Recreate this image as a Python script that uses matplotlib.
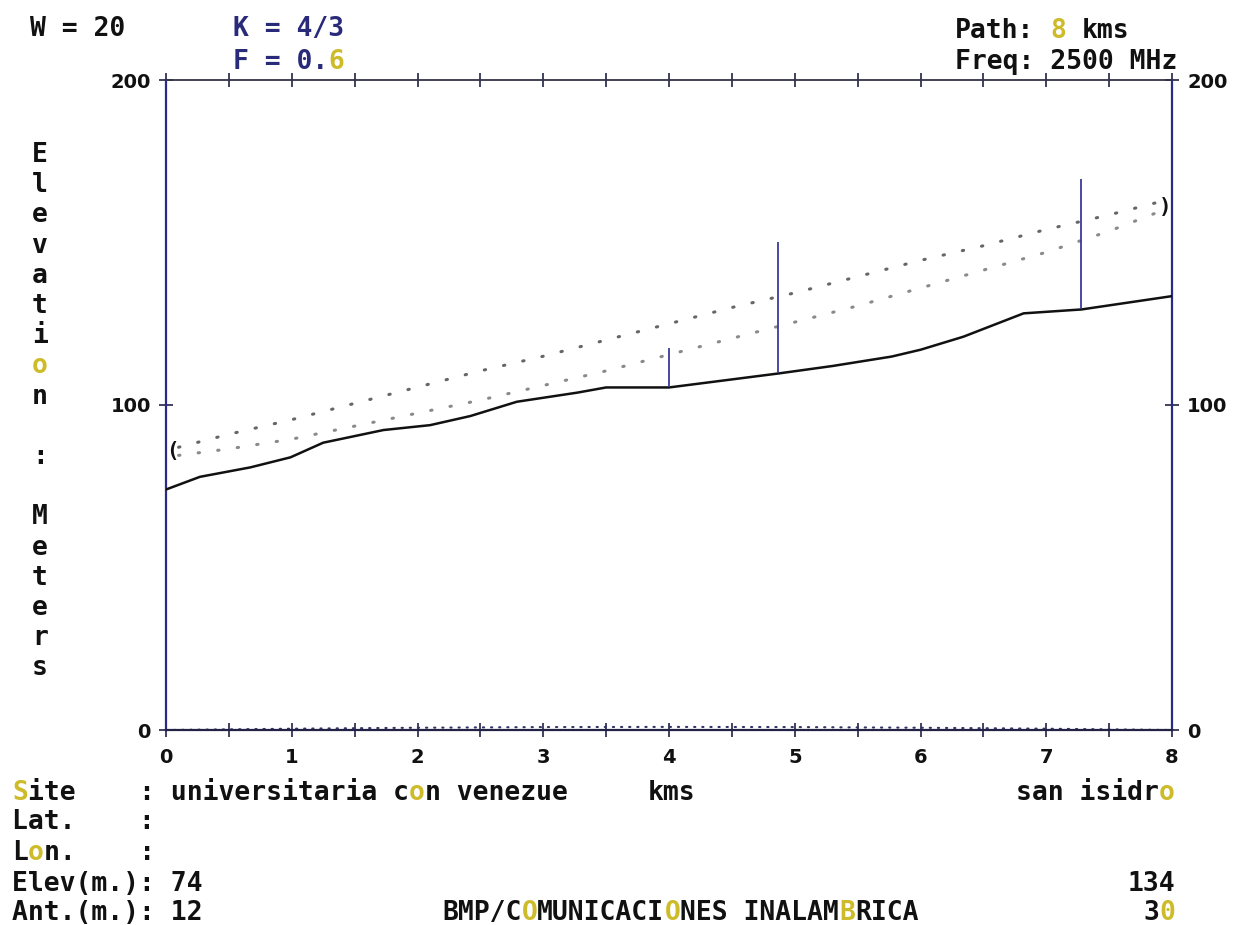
import matplotlib
matplotlib.use("Agg")
import matplotlib.pyplot as plt
import numpy as np

# ---------------- data ----------------
terrain_km = [0, 0.27, 0.67, 0.99, 1.25, 1.73, 2.1, 2.42, 2.79, 3.27, 3.5, 4.0,
              4.87, 5.3, 5.77, 6.0, 6.34, 6.82, 7.28, 8.0]
terrain_m = [74, 77.9, 80.8, 83.9, 88.4, 92.3, 93.8, 96.6, 101, 103.8, 105.4, 105.4,
             109.7, 112, 114.9, 117, 121, 128.2, 129.4, 133.5]

los_km = [0.1, 0.5, 1, 1.5, 2, 2.5, 3, 3.5, 4, 4.5, 5, 5.5, 6, 6.5, 7, 7.5, 7.9]
los_upper_m = [87, 91, 95.5, 100.5, 105.5, 110.5, 115, 120, 125, 130, 134.5, 139.5,
               144.5, 149, 154, 158.5, 162.5]
los_lower_m = [84.5, 86.5, 89.5, 93.5, 97.5, 101.5, 106, 110.5, 115.5, 120.5, 125.5,
               130.5, 136, 141.5, 147, 153.5, 159.5]

bulge_km = [0, 1, 2, 3, 4, 5, 6, 7, 8]
bulge_m = [0, 0.4, 0.7, 0.9, 0.95, 0.9, 0.7, 0.4, 0]

obst_km = [4.0, 4.87, 7.28]
obst_base_m = [105.4, 109.7, 129.4]
obst_top_m = [117.5, 150.3, 169.5]

xticks = [0, 0.5, 1, 1.5, 2, 2.5, 3, 3.5, 4, 4.5, 5, 5.5, 6, 6.5, 7, 7.5, 8]
xtick_labels = ['0', '', '1', '', '2', '', '3', '', '4', '', '5', '', '6', '', '7', '', '8']
yticks = [0, 100, 200]
ytick_labels = ['0', '100', '200']

# ---------------- figure ----------------
W, H = 1236, 925
fig = plt.figure(figsize=(W / 100, H / 100), dpi=100)
fig.patch.set_facecolor('white')

FONT = 'DejaVu Sans Mono'
FS = 19
ADV = 0.602 * FS * 100 / 72  # px per character
NAVY = '#2a2a7a'
YEL = '#cdbb2a'
INK = '#111111'

def mono(xpx, ypx, s, color=INK, hi=()):
    # split into runs of equal colour, each drawn at its monospace column
    runs = []
    for i, c in enumerate(s):
        col = YEL if i in hi else color
        if runs and runs[-1][1] == col:
            runs[-1][2] += c
        else:
            runs.append([i, col, c])
    for start, col, txt in runs:
        stripped = txt.lstrip(' ')
        start += len(txt) - len(stripped)
        stripped = stripped.rstrip(' ')
        if not stripped:
            continue
        fig.text((xpx + start * ADV) / W, 1 - ypx / H, stripped, family=FONT,
                 weight='bold', fontsize=FS, color=col, ha='left', va='center')

def mono_right(xpx, ypx, s, color=INK, hi=()):
    mono(xpx - len(s) * ADV, ypx, s, color, hi)

ax = fig.add_axes([166 / W, 1 - 730 / H, (1172 - 166) / W, (730 - 80) / H])
ax.set_xlim(0, 8)
ax.set_ylim(0, 200)

# terrain
ax.plot(terrain_km, terrain_m, color=INK, lw=1.8, zorder=3)
# line of sight and fresnel clearance (dotted)
ax.plot(los_km, los_upper_m, color='#666666', lw=2.2, linestyle=(0, (0.45, 6.0)),
        dash_capstyle='round', zorder=2)
ax.plot(los_km, los_lower_m, color='#8a8a8a', lw=2.2, linestyle=(0, (0.45, 6.0)),
        dash_capstyle='round', zorder=2)
# earth bulge near zero
ax.plot(bulge_km, bulge_m, color='#333366', lw=1.5, linestyle=(0, (0.6, 3.3)),
        dash_capstyle='round', zorder=2, clip_on=False)
# vertical markers
ax.vlines(obst_km, obst_base_m, obst_top_m, color='#3a3a9a', lw=1.3, zorder=3)

# antenna markers at ends
ax.text(0.0, (los_upper_m[0] + los_lower_m[0]) / 2, '(', family=FONT, weight='bold',
        fontsize=15, ha='left', va='center', color=INK)
ax.text(8.0, (los_upper_m[-1] + los_lower_m[-1]) / 2, ')', family=FONT, weight='bold',
        fontsize=15, ha='right', va='center', color=INK)

# spines
for side, col, lw in [('left', '#2a2a88', 1.6), ('right', '#2a2a88', 1.6),
                      ('top', '#333344', 1.3), ('bottom', '#222244', 1.6)]:
    ax.spines[side].set_color(col)
    ax.spines[side].set_linewidth(lw)

ax.set_xticks(xticks)
ax.set_xticklabels(xtick_labels)
ax.set_yticks(yticks)
ax.set_yticklabels(ytick_labels)
ax.tick_params(axis='x', top=True, bottom=True, direction='inout', length=10,
               width=1.3, color='#333355', pad=8, labelsize=14)
ax.tick_params(axis='y', left=True, right=True, labelleft=True, labelright=True,
               direction='inout', length=10, width=1.3, color='#333355', pad=6,
               labelsize=14)
for t in ax.xaxis.get_major_ticks() + ax.yaxis.get_major_ticks():
    for lab in (t.label1, t.label2):
        lab.set_family('DejaVu Sans')
        lab.set_weight('bold')
        lab.set_color(INK)

# header texts
mono(30, 29, 'W = 20')
mono(233, 29, 'K = 4/3', color=NAVY)
mono(233, 62, 'F = 0.6', color=NAVY, hi=(6,))
mono(955, 31, 'Path: 8 kms', hi=(6,))
mono(955, 62, 'Freq: 2500 MHz')

# vertical y label
ylabel = 'Elevation : Meters'
for i, ch in enumerate(ylabel):
    if ch == ' ':
        continue
    fig.text(40 / W, 1 - (155 + i * 30.2) / H, ch, family=FONT, weight='bold',
             fontsize=FS, color=YEL if i == 7 else INK, ha='center', va='center')

# bottom info block
mono(12, 793, 'Site    : universitaria con venezue', hi=(0, 25))
mono(648, 793, 'kms')
mono_right(1175, 793, 'san isidro', hi=(9,))
mono(12, 822, 'Lat.    :')
mono(12, 853, 'Lon.    :', hi=(1,))
mono(12, 884, 'Elev(m.): 74')
mono_right(1175, 884, '134')
mono(12, 913, 'Ant.(m.): 12')
mono(442, 913, 'BMP/COMUNICACIONES INALAMBRICA', hi=(5, 14, 25))
mono_right(1175, 913, '30', hi=(1,))

fig.savefig('out.png', dpi=100, facecolor='white')
